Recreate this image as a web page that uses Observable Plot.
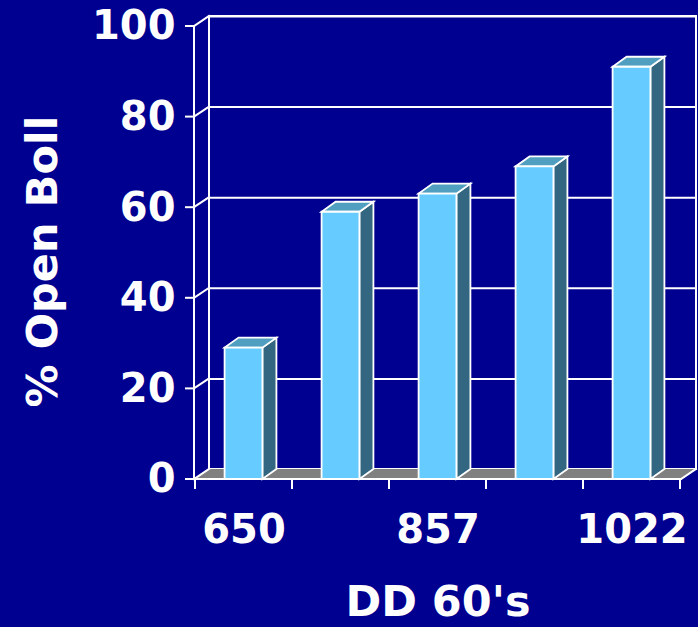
<!DOCTYPE html>
<html><head><meta charset="utf-8">
<script src="https://cdn.jsdelivr.net/npm/d3@7"></script>
<script src="https://cdn.jsdelivr.net/npm/@observablehq/plot@0.6"></script>
<style>html,body{margin:0;padding:0;background:#000090;overflow:hidden}</style>
</head><body><div id="chart"></div>
<script>
const barIds = [1, 2, 3, 4, 5];
const tickLabels = ["650", "", "857", "", "1022"];
const openBoll = [29, 59, 63, 69, 91];
const yTicks = [0, 20, 40, 60, 80, 100];
const yLabel = "% Open Boll";
const xLabel = "DD 60's";

const data = barIds.map((id, i) => ({id, label: tickLabels[i], value: openBoll[i]}));
const DX = 15, DY = 10;   // wall depth
const BDX = 14, BDY = 10; // bar depth
const C = {bg: "#000090", face: "#66CCFF", top: "#519FC0", side: "#336680", floor: "#808080", line: "#FFFFFF"};
const FONT = "DejaVu Sans, Verdana, sans-serif";

function poly(g, pts, fill, stroke, sw) {
  g.append("polygon").attr("points", pts.map(p => p.join(",")).join(" "))
    .attr("fill", fill).attr("stroke", stroke || "none").attr("stroke-width", sw || 0)
    .attr("stroke-linejoin", "miter");
}
function line(g, a, b, sw) {
  g.append("line").attr("x1", a[0]).attr("y1", a[1]).attr("x2", b[0]).attr("y2", b[1])
    .attr("stroke", C.line).attr("stroke-width", sw || 2).attr("stroke-linecap", "square");
}

// back wall (frame)
const wall = (index, scales, values, dims) => {
  const {y} = scales;
  const g = d3.create("svg:g");
  const xa = dims.marginLeft, xb = dims.width - dims.marginRight;
  const y0 = y(0), yt = y(100);
  g.append("rect").attr("x", xa + DX).attr("y", yt - DY).attr("width", xb - xa).attr("height", y0 - yt)
    .attr("fill", "none").attr("stroke", C.line).attr("stroke-width", 2);
  return g.node();
};
// floor + front axes
const floorAxes = (index, scales, values, dims) => {
  const {x, y} = scales;
  const g = d3.create("svg:g");
  const xa = dims.marginLeft, xb = dims.width - dims.marginRight;
  const y0 = y(0), yt = y(100);
  poly(g, [[xa, y0], [xb, y0], [xb + DX, y0 - DY], [xa + DX, y0 - DY]], C.floor);
  line(g, [xa, y0], [xb, y0]);
  line(g, [xb, y0], [xb + DX, y0 - DY]);
  line(g, [xa, y0], [xa, yt]);
  for (const t of yTicks) {
    const yy = y(t);
    line(g, [xa - 8, yy], [xa, yy]);
    line(g, [xa, yy], [xa + DX, yy - DY]);
  }
  const step = x(barIds[1]) - x(barIds[0]);
  for (let i = 0; i <= barIds.length; i++) {
    const xx = x(barIds[0]) + i * step;
    line(g, [xx, y0], [xx, y0 + 9]);
  }
  return g.node();
};
const bars3d = (index, scales, values, dims) => {
  const {x, y} = scales;
  const g = d3.create("svg:g");
  const step = x(barIds[1]) - x(barIds[0]);
  const w = step * 0.39;
  const y0 = y(0);
  for (const d of data) {
    const cx = x(d.id) + step / 2;
    const a = cx - w / 2, b = cx + w / 2, yv = y(d.value);
    poly(g, [[b, yv], [b + BDX, yv - BDY], [b + BDX, y0 - BDY], [b, y0]], C.side, C.line, 1.8);
    poly(g, [[a, yv], [b, yv], [b + BDX, yv - BDY], [a + BDX, yv - BDY]], C.top, C.line, 1.8);
    poly(g, [[a, yv], [b, yv], [b, y0], [a, y0]], C.face, C.line, 1.8);
  }
  return g.node();
};
const yTitle = (index, scales, values, dims) => {
  const {y} = scales;
  const g = d3.create("svg:g");
  g.append("text").attr("transform", `translate(42,${y(48)}) rotate(-90)`)
    .attr("text-anchor", "middle").attr("dy", "0.36em")
    .attr("fill", "white").attr("font-size", 43).attr("font-weight", "bold")
    .attr("font-family", FONT).text(yLabel);
  return g.node();
};

const chart = Plot.plot({
  width: 698, height: 627,
  marginLeft: 194, marginRight: 17, marginTop: 26, marginBottom: 148,
  style: {background: C.bg, color: "white", fontFamily: FONT, fontWeight: "bold", overflow: "visible"},
  x: {type: "band", domain: barIds, padding: 0, axis: null},
  y: {domain: [0, 100], axis: null},
  marks: [
    Plot.ruleY(yTicks.filter(t => t > 0), {y: d => d, dx: DX, dy: -DY, stroke: C.line, strokeWidth: 2}),
    wall,
    floorAxes,
    bars3d,
    Plot.text(yTicks, {y: d => d, text: d => String(d), frameAnchor: "left", textAnchor: "end", lineAnchor: "middle", dx: -19,
      fontSize: 40, fontWeight: "bold", fill: "white"}),
    Plot.text(data, {x: "id", text: "label", frameAnchor: "bottom", lineAnchor: "middle", dy: 51, fontSize: 40, fontWeight: "bold", fill: "white"}),
    yTitle,
    Plot.text([xLabel], {frameAnchor: "bottom", lineAnchor: "middle", dy: 123, fontSize: 43, fontWeight: "bold", fill: "white"})
  ]
});
document.getElementById("chart").appendChild(chart);
</script>
</body></html>
